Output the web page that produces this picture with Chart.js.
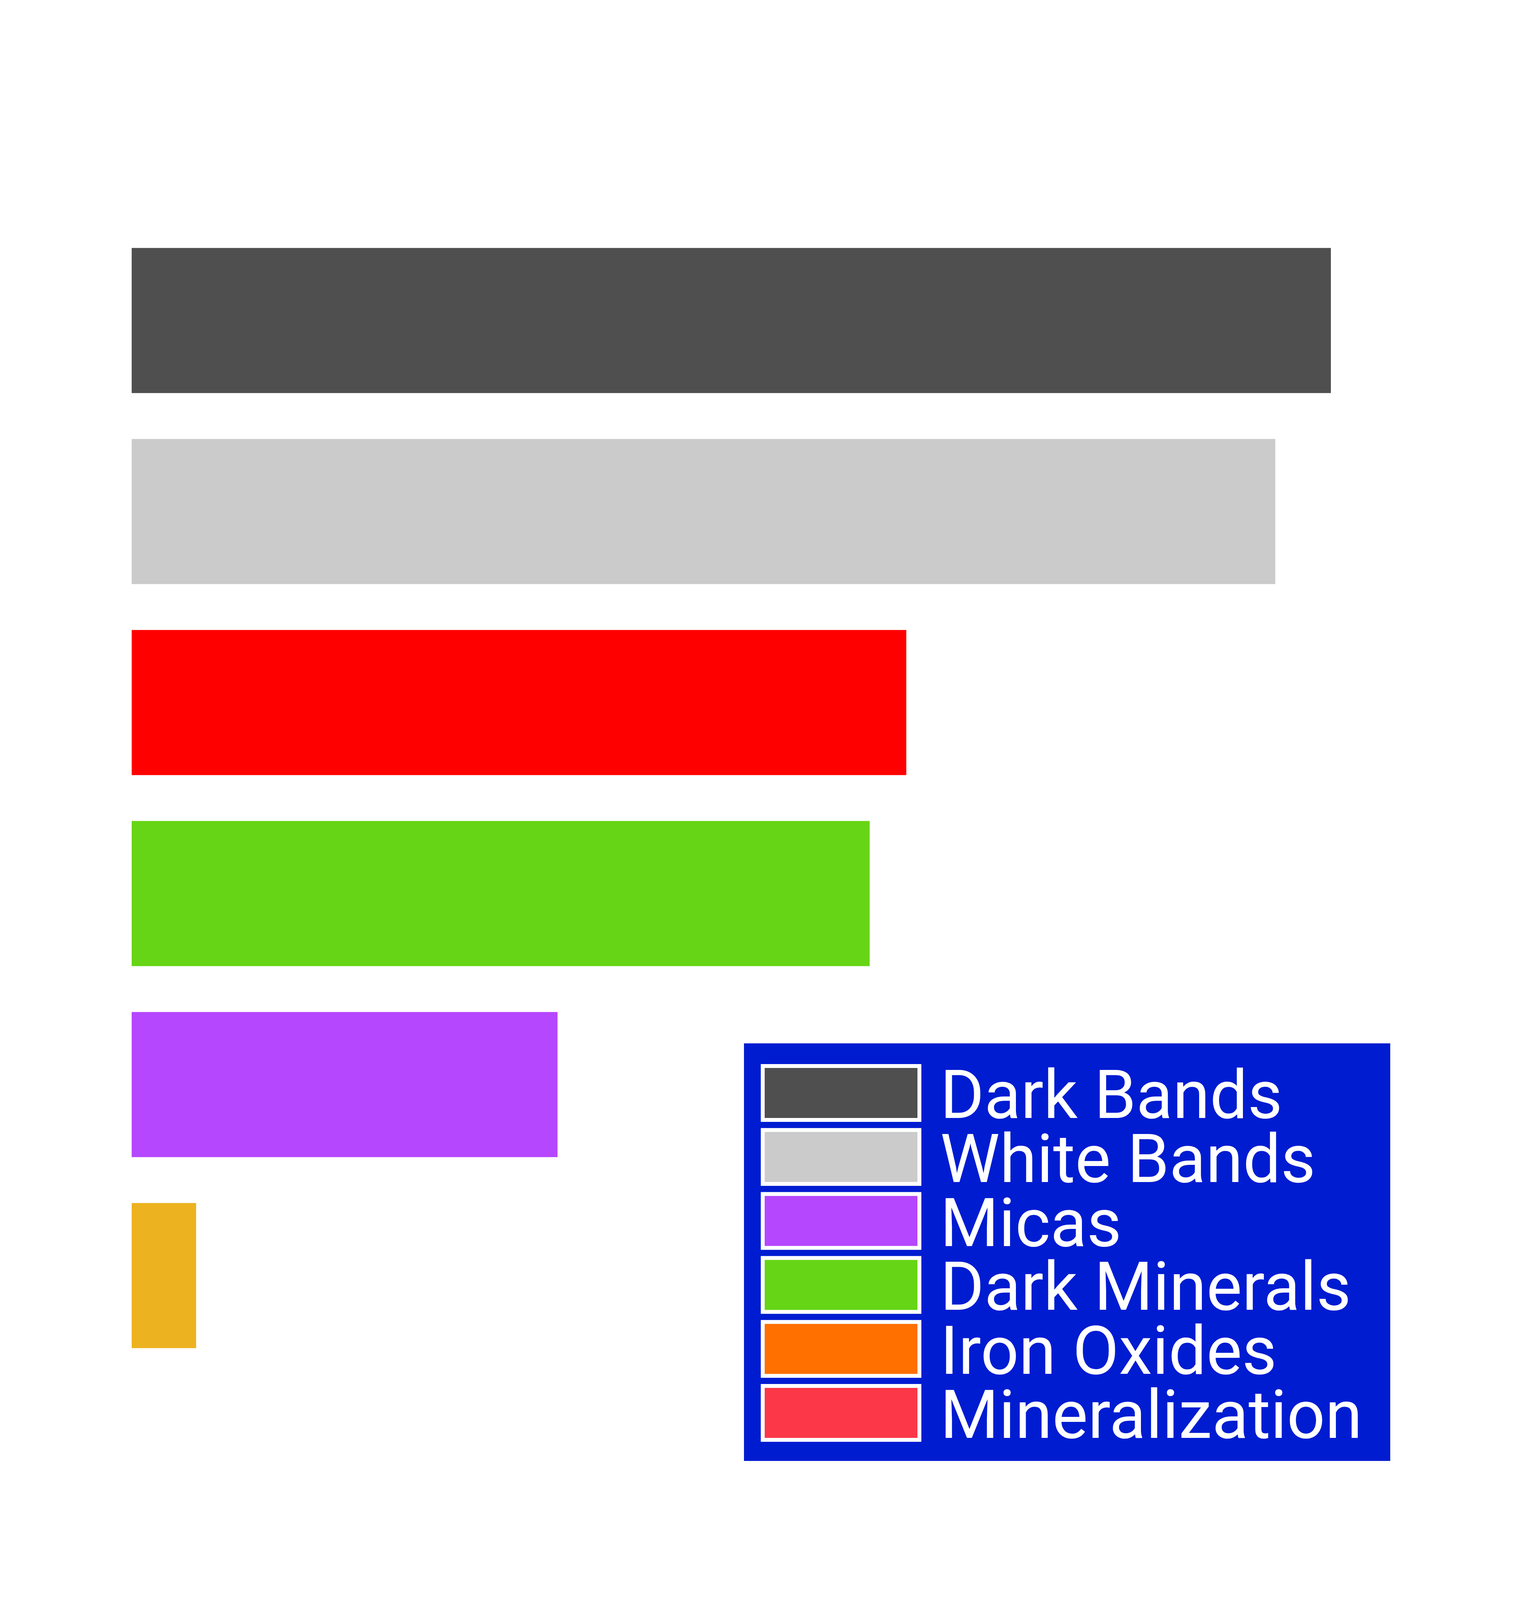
<!DOCTYPE html>
<html>
<head>
<meta charset="utf-8">
<script src="https://cdn.jsdelivr.net/npm/chart.js@4.4.1/dist/chart.umd.min.js"></script>
<style>
  html, body { margin: 0; padding: 0; background: #ffffff; }
  #wrap { width: 3908px; height: 4378px; }
</style>
</head>
<body>
<div id="wrap"><canvas id="c" width="3908" height="4378"></canvas></div>
<script>
// ---- data ----
const categories = ["Dark Bands", "White Bands", "Mineralization", "Dark Minerals", "Micas", "Iron Oxides"];
const values = [94.9, 90.5, 61.3, 58.4, 33.7, 5.1];
const barColors = ["#4f4f4f", "#cbcbcb", "#ff0000", "#66d515", "#b547fe", "#ecb220"];
const legendLabels = ["Dark Bands", "White Bands", "Micas", "Dark Minerals", "Iron Oxides", "Mineralization"];
const legendColors = ["#4f4f4f", "#cbcbcb", "#b547fe", "#66d515", "#ff7000", "#fb3748"];

// ---- legend style ----
const LEG = {
  x: 1904, y: 2671, w: 1654, h: 1069, bg: "#001cd1",
  boxX: 1952, boxY0: 2729, boxW: 401, boxH: 138, rowStep: 163.8,
  border: 10, textX: 2406, baselineOff: 133, font: "172px Roboto"
};

const boxLegendPlugin = {
  id: 'boxLegend',
  afterDraw(chart) {
    const ctx = chart.ctx;
    ctx.save();
    ctx.fillStyle = LEG.bg;
    ctx.fillRect(LEG.x, LEG.y, LEG.w, LEG.h);
    ctx.font = LEG.font;
    ctx.textAlign = 'left';
    ctx.textBaseline = 'alphabetic';
    legendLabels.forEach((lab, i) => {
      const by = LEG.boxY0 + i * LEG.rowStep;
      ctx.fillStyle = legendColors[i];
      ctx.fillRect(LEG.boxX, by, LEG.boxW, LEG.boxH);
      ctx.lineWidth = LEG.border;
      ctx.strokeStyle = '#ffffff';
      ctx.strokeRect(LEG.boxX, by, LEG.boxW, LEG.boxH);
      ctx.fillStyle = '#ffffff';
      ctx.fillText(lab, LEG.textX, by + LEG.baselineOff);
    });
    ctx.restore();
  }
};

function build() {
  new Chart(document.getElementById('c'), {
    type: 'bar',
    data: {
      labels: categories,
      datasets: [{
        label: 'Composition',
        data: values,
        backgroundColor: barColors,
        borderWidth: 0,
        categoryPercentage: 0.8,
        barPercentage: 0.95
      }]
    },
    options: {
      indexAxis: 'y',
      responsive: false,
      animation: false,
      devicePixelRatio: 1,
      layout: { padding: { left: 337, right: 337, top: 576, bottom: 868 } },
      scales: {
        x: { display: false, min: 0, max: 100 },
        y: { display: false }
      },
      plugins: {
        legend: { display: false },
        tooltip: { enabled: false },
        title: { display: false }
      }
    },
    plugins: [boxLegendPlugin]
  });
}

if (document.fonts && document.fonts.load) {
  document.fonts.load(LEG.font).then(build, build);
} else {
  build();
}
</script>
</body>
</html>
